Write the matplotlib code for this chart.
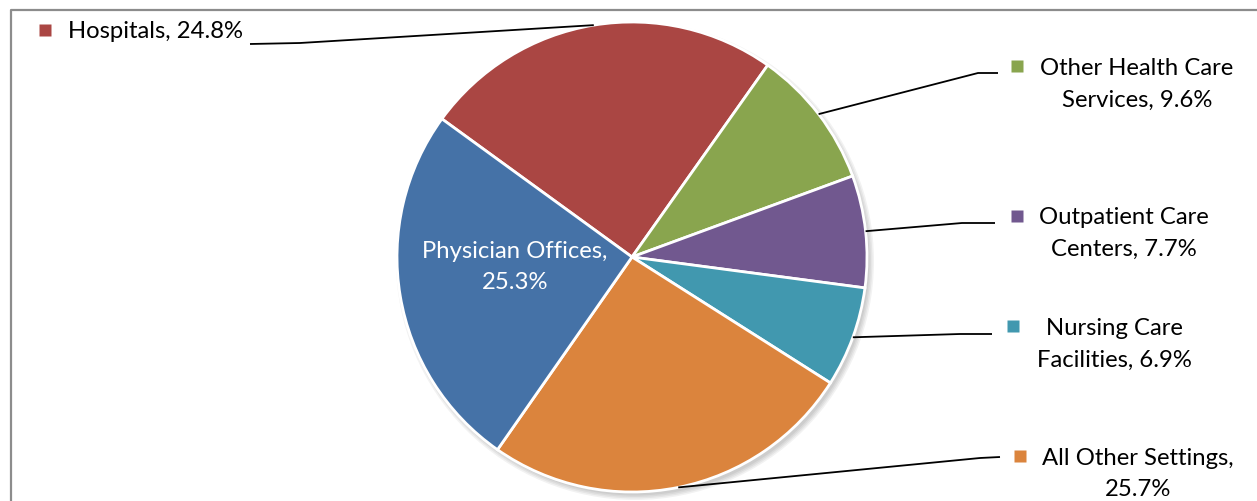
import numpy as np
import matplotlib
matplotlib.use("Agg")
import matplotlib.pyplot as plt
from matplotlib.patches import Circle
from matplotlib.lines import Line2D

categories = ["Hospitals", "Other Health Care Services", "Outpatient Care Centers",
              "Nursing Care Facilities", "All Other Settings", "Physician Offices"]
values = [24.8, 9.6, 7.7, 6.9, 25.7, 25.3]
label_texts = ["Hospitals, 24.8%", "Other Health Care\nServices, 9.6%",
               "Outpatient Care\nCenters, 7.7%", "Nursing Care\nFacilities, 6.9%",
               "All Other Settings,\n25.7%", "Physician Offices,\n25.3%"]
colors = ["#AA4643", "#89A54E", "#71588F", "#4198AF", "#DB843D", "#4572A7"]

W, H = 1257, 501
fig = plt.figure(figsize=(W / 100, H / 100), dpi=100)
ax = fig.add_axes([0, 0, 1, 1])
ax.set_xlim(0, W)
ax.set_ylim(0, H)
ax.set_aspect("equal")
ax.axis("off")

def py(y):  # pixel row -> data y
    return H - y

cx, cy, r = 632, py(257), 235
font = "Lato"
fs = 17.2
ls = 1.63

# soft shadow
for i, a in enumerate([0.05, 0.05, 0.05, 0.05]):
    ax.add_patch(Circle((cx + 3, cy - 4), r + 4 - i * 1.5, color="#000000", alpha=a, lw=0, zorder=1))

wedges, _ = ax.pie(values, colors=colors, startangle=144, counterclock=False,
                   center=(cx, cy), radius=r, frame=True,
                   wedgeprops=dict(edgecolor="white", linewidth=2))
for w in wedges:
    w.set_zorder(2)
ax.set_xlim(0, W)
ax.set_ylim(0, H)
ax.axis("off")

# label layout (pixel coords): marker pos, text center, leader path after edge
layout = [
    dict(marker=(45, 30), text=(68, 31), ha="left", path=[(300, 43), (250, 44)]),
    dict(marker=(1017, 66), text=(1137, 84), ha="center", path=[(978, 73), (998, 73)]),
    dict(marker=(1017, 216), text=(1124, 233), ha="center", path=[(962, 223), (995, 223)]),
    dict(marker=(1013, 326), text=(1114, 344), ha="center", path=[(960, 334), (992, 334)]),
    dict(marker=(1020, 456), text=(1138, 474), ha="center", path=[(980, 458), (1000, 457)]),
]

for w, lay, txt, col in zip(wedges[:5], layout, label_texts[:5], colors[:5]):
    ang = np.deg2rad((w.theta1 + w.theta2) / 2)
    ex, ey = cx + r * np.cos(ang), cy + r * np.sin(ang)
    xs = [ex] + [p[0] for p in lay["path"]]
    ys = [ey] + [py(p[1]) for p in lay["path"]]
    ax.plot(xs, ys, color="black", lw=1.3, zorder=3, solid_capstyle="butt")
    mx, my = lay["marker"]
    ax.plot(mx, py(my), marker="s", ms=8.5, color=col, mec="none", zorder=4)
    tx, ty = lay["text"]
    ax.text(tx, py(ty), txt, ha=lay["ha"], va="center", fontsize=fs, family=font,
            color="black", linespacing=ls, multialignment="center", zorder=4)

# inside label
ax.text(515, py(267), label_texts[5], ha="center", va="center", fontsize=fs,
        family=font, color="white", linespacing=ls, zorder=4)

# chart border
fig.add_artist(Line2D([10.5 / W, 10.5 / W, 1.0], [0, 1 - 9.5 / H, 1 - 9.5 / H],
                      transform=fig.transFigure, color="#8c8c8c", lw=1.6))

fig.savefig("out.png", dpi=100)
